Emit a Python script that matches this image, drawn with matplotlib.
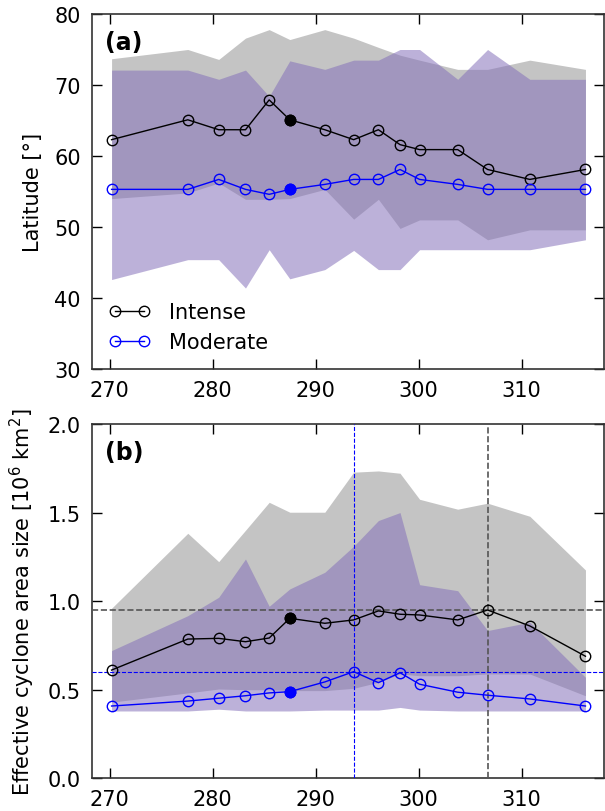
import numpy as np
import matplotlib
matplotlib.use("Agg")
import matplotlib.pyplot as plt

# x positions of the 15 samples
x = [270.2, 277.6, 280.6, 283.2, 285.5, 287.5, 290.9, 293.7, 296.1, 298.2,
     300.1, 303.8, 306.7, 310.8, 316.2]

# (a) latitude
lat_intense = [62.3, 65.1, 63.7, 63.7, 67.9, 65.1, 63.7, 62.3, 63.7, 61.6,
               60.9, 60.9, 58.1, 56.7, 58.1]
lat_moderate = [55.3, 55.3, 56.7, 55.3, 54.6, 55.3, 56.0, 56.7, 56.7, 58.1,
                56.7, 56.0, 55.3, 55.3, 55.3]
lat_int_hi = [73.7, 75.0, 73.6, 76.6, 77.8, 76.4, 77.8, 76.6, 75.3, 74.2,
              73.5, 72.2, 72.2, 73.5, 72.2]
lat_int_lo = [54.0, 54.8, 56.2, 53.9, 53.9, 54.0, 55.3, 51.1, 53.9, 49.8,
              51.0, 51.0, 48.2, 49.6, 49.6]
lat_mod_hi = [72.1, 72.1, 70.8, 72.1, 68.4, 73.4, 72.2, 73.5, 73.5, 75.0,
              75.0, 70.8, 75.0, 70.8, 70.8]
lat_mod_lo = [42.6, 45.4, 45.4, 41.4, 46.8, 42.7, 44.0, 46.7, 44.0, 44.0,
              46.8, 46.8, 46.8, 46.8, 48.2]

# (b) effective area size
area_intense = [0.611, 0.786, 0.790, 0.771, 0.792, 0.903, 0.875, 0.894, 0.945, 0.926,
                0.922, 0.894, 0.950, 0.860, 0.689]
area_moderate = [0.408, 0.436, 0.452, 0.466, 0.482, 0.489, 0.544, 0.602, 0.540, 0.596,
                 0.531, 0.486, 0.469, 0.448, 0.408]
area_int_hi = [0.96, 1.383, 1.223, 1.40, 1.558, 1.502, 1.502, 1.728, 1.735, 1.722,
               1.575, 1.519, 1.553, 1.479, 1.176]
area_int_lo = [0.43, 0.482, 0.504, 0.50, 0.50, 0.495, 0.495, 0.508, 0.542, 0.589,
               0.579, 0.579, 0.589, 0.589, 0.466]
area_mod_hi = [0.721, 0.918, 1.022, 1.238, 0.971, 1.069, 1.163, 1.31, 1.455, 1.500,
               1.093, 1.059, 0.834, 0.881, 0.570]
area_mod_lo = [0.38, 0.38, 0.39, 0.38, 0.38, 0.38, 0.385, 0.385, 0.385, 0.40,
               0.385, 0.38, 0.38, 0.38, 0.38]

highlight = 5  # filled marker
gray_fill = '#c4c4c4'
purple_fill = '#8470b9'


def style_axes(ax):
    ax.tick_params(direction='in', length=7, width=1, top=True, right=True,
                   labelsize=15, pad=8)
    for s in ax.spines.values():
        s.set_color('#333333')
        s.set_linewidth(1.2)
    ax.set_xlim(268.3, 318.0)
    ax.set_xticks([270, 280, 290, 300, 310])


def draw_panel(ax, y_int, y_mod, int_hi, int_lo, mod_hi, mod_lo):
    ax.fill_between(x, int_lo, int_hi, color=gray_fill, lw=0, zorder=1)
    ax.fill_between(x, mod_lo, mod_hi, color=purple_fill, alpha=0.54, lw=0, zorder=2)
    ax.plot(x, y_int, '-o', color='black', mfc='none', mec='black', ms=7.5,
            mew=1, lw=1, zorder=4, label='Intense')
    ax.plot(x, y_mod, '-o', color='blue', mfc='none', mec='blue', ms=7.5,
            mew=1, lw=1, zorder=4, label='Moderate')
    ax.plot(x[highlight], y_int[highlight], 'o', color='black', ms=7.5, zorder=5)
    ax.plot(x[highlight], y_mod[highlight], 'o', color='blue', ms=7.5, zorder=5)


fig = plt.figure(figsize=(6.05, 8.12), dpi=100)
ax1 = fig.add_axes([92 / 605, 1 - 370 / 812, 512 / 605, 355 / 812])
ax2 = fig.add_axes([92 / 605, 1 - 779.3 / 812, 512 / 605, 354.3 / 812])

# (a)
draw_panel(ax1, lat_intense, lat_moderate, lat_int_hi, lat_int_lo, lat_mod_hi, lat_mod_lo)
style_axes(ax1)
ax1.set_ylim(30, 80)
ax1.set_yticks([30, 40, 50, 60, 70, 80])
ax1.set_ylabel('Latitude [°]', fontsize=15, labelpad=8)
ax1.text(0.025, 0.955, '(a)', transform=ax1.transAxes, fontsize=17,
         fontweight='bold', va='top', ha='left')
ax1.legend(loc='lower left', frameon=False, numpoints=2, fontsize=15,
           handlelength=2.0, handletextpad=0.9, bbox_to_anchor=(0.0, 0.0),
           borderaxespad=0.4)

# (b)
draw_panel(ax2, area_intense, area_moderate, area_int_hi, area_int_lo, area_mod_hi, area_mod_lo)
style_axes(ax2)
ax2.set_ylim(0, 2.0)
ax2.set_yticks([0.0, 0.5, 1.0, 1.5, 2.0])
ax2.set_ylabel(r'Effective cyclone area size [10$^6$ km$^2$]', fontsize=15, labelpad=8)
ax2.text(0.025, 0.955, '(b)', transform=ax2.transAxes, fontsize=17,
         fontweight='bold', va='top', ha='left')

# maxima markers
i_max = int(np.argmax(area_intense))
m_max = int(np.argmax(area_moderate))
ax2.axhline(area_intense[i_max], color='#555555', ls='--', lw=1.2, zorder=3)
ax2.axvline(x[i_max], color='#555555', ls='--', lw=1.2, zorder=3)
ax2.axhline(area_moderate[m_max], color='blue', ls='--', lw=0.8, zorder=3)
ax2.axvline(x[m_max], color='blue', ls='--', lw=0.8, zorder=3)

fig.savefig('out.png', dpi=100)
